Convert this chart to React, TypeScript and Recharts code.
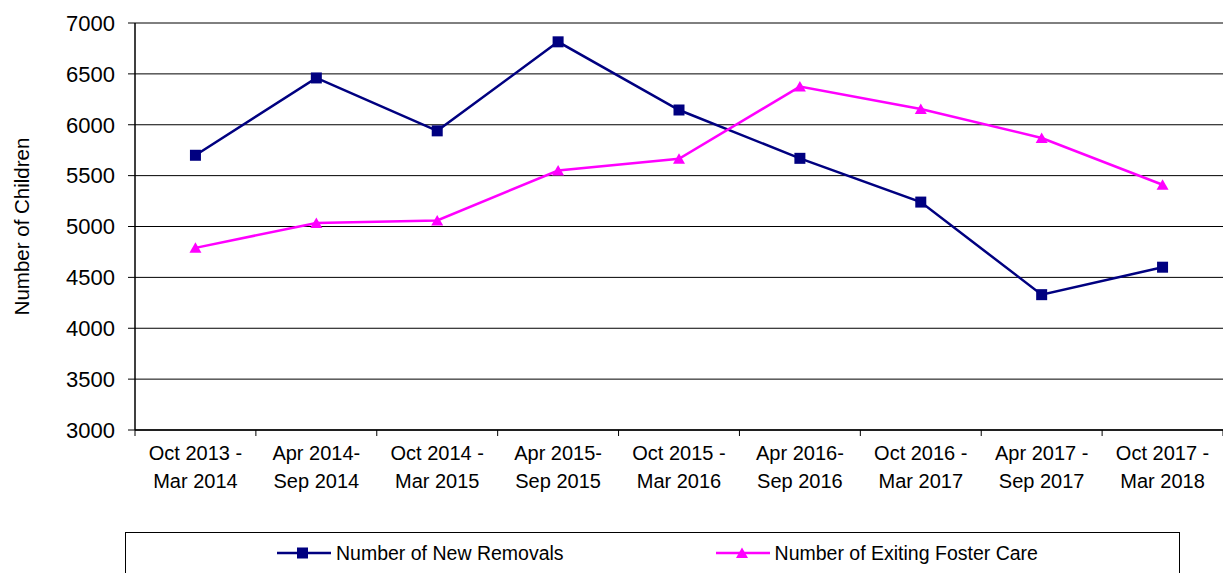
import React from "react";
import { LineChart, Line, XAxis, YAxis, CartesianGrid, Legend } from "recharts";

const categories = [
  "Oct 2013 - Mar 2014",
  "Apr 2014-Sep 2014",
  "Oct 2014 - Mar 2015",
  "Apr 2015-Sep 2015",
  "Oct 2015 - Mar 2016",
  "Apr 2016-Sep 2016",
  "Oct 2016 - Mar 2017",
  "Apr 2017 - Sep 2017",
  "Oct 2017 - Mar 2018",
];

const tickLabels = [
  ["Oct 2013 -", "Mar 2014"],
  ["Apr 2014-", "Sep 2014"],
  ["Oct 2014 -", "Mar 2015"],
  ["Apr 2015-", "Sep 2015"],
  ["Oct 2015 -", "Mar 2016"],
  ["Apr 2016-", "Sep 2016"],
  ["Oct 2016 -", "Mar 2017"],
  ["Apr 2017 -", "Sep 2017"],
  ["Oct 2017 -", "Mar 2018"],
];

const newRemovals = [5700, 6460, 5940, 6815, 6145, 5670, 5240, 4330, 4600];
const exitingFosterCare = [4790, 5035, 5060, 5550, 5665, 6375, 6155, 5870, 5410];

const yTicks = [3000, 3500, 4000, 4500, 5000, 5500, 6000, 6500, 7000];

const NAVY = "#000080";
const MAGENTA = "#FF00FF";
const FONT = "'Liberation Sans', Arial, sans-serif";

const W = 1223;
const H = 573;
const Y_AXIS_W = 135;
const BAND = (W - Y_AXIS_W) / categories.length;

const data = categories.map((c, i) => ({
  period: c,
  removals: newRemovals[i],
  exiting: exitingFosterCare[i],
}));

function Square({ cx, cy }: any) {
  if (cx == null || cy == null) return null;
  return <rect x={cx - 5.5} y={cy - 5.5} width={11} height={11} fill={NAVY} />;
}

function Triangle({ cx, cy }: any) {
  if (cx == null || cy == null) return null;
  return <polygon points={`${cx},${cy - 5.5} ${cx + 6},${cy + 5} ${cx - 6},${cy + 5}`} fill={MAGENTA} />;
}

function PeriodTick({ x, y, payload, index }: any) {
  const i = index ?? payload?.index ?? 0;
  const lines = tickLabels[i] ?? [String(payload.value)];
  const left = x - BAND / 2;
  const right = x + BAND / 2;
  return (
    <g>
      <line x1={left} x2={left} y1={y} y2={y + 6} stroke="#000" />
      {i === tickLabels.length - 1 && <line x1={right} x2={right} y1={y} y2={y + 6} stroke="#000" />}
      <text x={x} y={y} textAnchor="middle" fontSize={20} fill="#000" fontFamily={FONT}>
        <tspan x={x} dy={30}>{lines[0]}</tspan>
        <tspan x={x} dy={28}>{lines[1]}</tspan>
      </text>
    </g>
  );
}

function YTitle({ viewBox }: any) {
  const cx = 21;
  const cy = viewBox ? viewBox.y + viewBox.height / 2 : 226;
  return (
    <text
      x={cx}
      y={cy}
      transform={`rotate(-90 ${cx} ${cy})`}
      textAnchor="middle"
      dominantBaseline="central"
      fontSize={20.5}
      fill="#000"
      fontFamily={FONT}
    >
      Number of Children
    </text>
  );
}

function LegendBox() {
  const item = (label: string, color: string, marker: React.ReactNode) => (
    <div style={{ display: "flex", alignItems: "center" }}>
      <svg width={54} height={14} style={{ display: "block" }}>
        <line x1={0} x2={54} y1={7} y2={7} stroke={color} strokeWidth={2.5} />
        {marker}
      </svg>
      <span style={{ marginLeft: 5, fontSize: 19.5, color: "#000", fontFamily: FONT, whiteSpace: "nowrap" }}>{label}</span>
    </div>
  );
  return (
    <div
      style={{
        boxSizing: "border-box",
        height: 41,
        borderTop: "1.5px solid #000",
        borderLeft: "1.5px solid #000",
        borderRight: "1.5px solid #000",
        display: "flex",
        alignItems: "center",
        paddingLeft: 151,
        gap: 152,
        background: "#fff",
      }}
    >
      {item("Number of New Removals", NAVY, <rect x={20} y={1.5} width={11} height={11} fill={NAVY} />)}
      {item("Number of Exiting Foster Care", MAGENTA, <polygon points="26,1.5 32,12 20,12" fill={MAGENTA} />)}
    </div>
  );
}

export default function App() {
  return (
    <div style={{ position: "absolute", left: 0, top: 0, width: W, height: H, background: "#fff" }}>
      <LineChart
        width={W}
        height={H}
        data={data}
        margin={{ top: 23, right: 0, left: 0, bottom: 0 }}
        style={{ fontFamily: FONT }}
      >
        <CartesianGrid vertical={false} stroke="#000" strokeWidth={1} />
        <XAxis
          dataKey="period"
          scale="band"
          interval={0}
          height={102}
          tickLine={false}
          tickSize={0}
          tickMargin={0}
          axisLine={{ stroke: "#000", strokeWidth: 1.5 }}
          tick={<PeriodTick />}
        />
        <YAxis
          width={Y_AXIS_W}
          domain={[3000, 7000]}
          ticks={yTicks}
          interval={0}
          allowDataOverflow
          tickSize={7}
          tickMargin={13}
          tickLine={{ stroke: "#000" }}
          axisLine={{ stroke: "#000", strokeWidth: 1.5 }}
          tick={{ fontSize: 22, fill: "#000", fontFamily: FONT }}
          label={{ content: (p: any) => <YTitle viewBox={p.viewBox} /> }}
        />
        <Legend
          verticalAlign="bottom"
          height={41}
          content={() => <LegendBox />}
          wrapperStyle={{ left: 125, width: 1055, bottom: 0 }}
        />
        <Line
          type="linear"
          dataKey="removals"
          name="Number of New Removals"
          stroke={NAVY}
          strokeWidth={2.5}
          dot={<Square />}
          activeDot={false}
          isAnimationActive={false}
        />
        <Line
          type="linear"
          dataKey="exiting"
          name="Number of Exiting Foster Care"
          stroke={MAGENTA}
          strokeWidth={2.5}
          dot={<Triangle />}
          activeDot={false}
          isAnimationActive={false}
        />
      </LineChart>
    </div>
  );
}
